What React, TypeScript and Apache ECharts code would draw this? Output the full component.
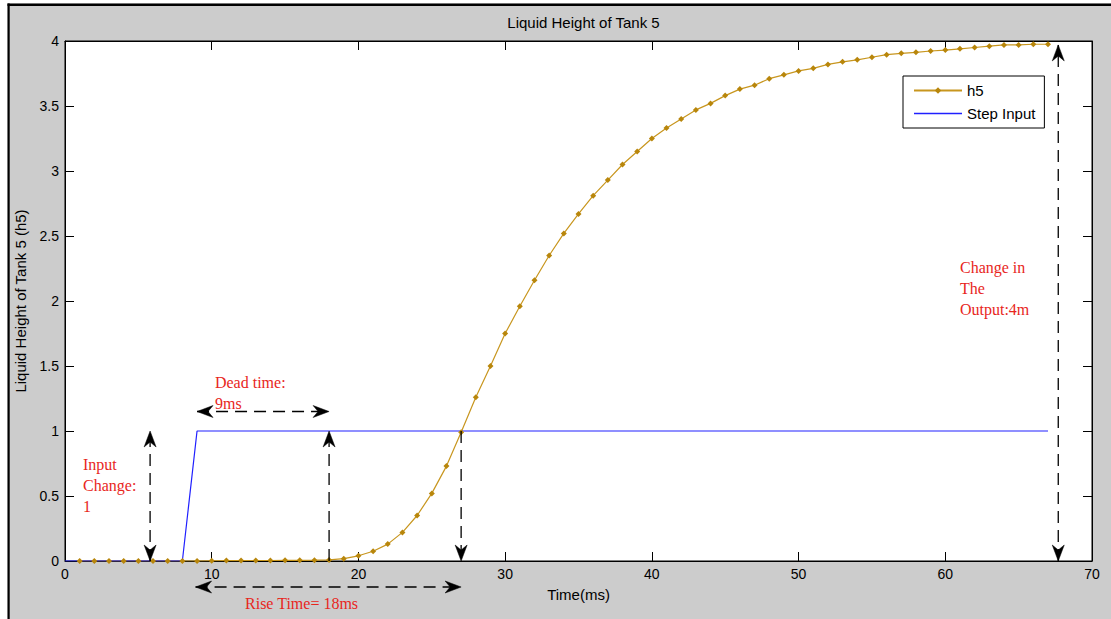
import React, { useEffect, useRef } from "react";
import * as echarts from "echarts";

const time = [
  1, 2, 3, 4, 5, 6, 7, 8, 9, 10, 11, 12, 13, 14, 15, 16, 17, 18, 19, 20,
  21, 22, 23, 24, 25, 26, 27, 28, 29, 30, 31, 32, 33, 34, 35, 36, 37, 38, 39, 40,
  41, 42, 43, 44, 45, 46, 47, 48, 49, 50, 51, 52, 53, 54, 55, 56, 57, 58, 59, 60,
  61, 62, 63, 64, 65, 66, 67,
];
const h5 = [
  0, 0, 0, 0, 0, 0, 0, 0, 0, 0.002, 0.003, 0.003, 0.004, 0.004, 0.005, 0.005, 0.006, 0.008, 0.018, 0.04,
  0.075, 0.13, 0.22, 0.35, 0.52, 0.73, 0.99, 1.26, 1.5, 1.75, 1.96, 2.16, 2.35, 2.52, 2.67, 2.81, 2.93, 3.05, 3.15, 3.25,
  3.33, 3.4, 3.47, 3.52, 3.58, 3.63, 3.66, 3.71, 3.74, 3.77, 3.79, 3.82, 3.84, 3.855, 3.875, 3.895, 3.905, 3.913, 3.923, 3.93,
  3.94, 3.95, 3.96, 3.97, 3.97, 3.975, 3.975,
];
const stepTime = [0, 8, 9, 67];
const stepValue = [0, 0, 1, 1];

const xTicks = [0, 10, 20, 30, 40, 50, 60, 70];
const yTicks = [0, 0.5, 1, 1.5, 2, 2.5, 3, 3.5, 4];

// annotation arrows: [x1, y1, x2, y2, headAtStart, headAtEnd]
const arrows: [number, number, number, number, boolean, boolean][] = [
  [5.8, 0, 5.8, 1, true, true],
  [9, 1.15, 18, 1.15, true, true],
  [18, 0, 18, 1, false, true],
  [27, 1, 27, 0, false, true],
  [8.9, -0.2, 27, -0.2, true, true],
  [67.7, 0, 67.7, 3.97, true, true],
];
// annotation texts: [x, y(top), text]
const notes: [number, number, string][] = [
  [1.23, 0.823, "Input\nChange:\n1"],
  [10.22, 1.454, "Dead time:\n9ms"],
  [12.27, -0.246, "Rise Time= 18ms"],
  [61.0, 2.338, "Change in\nThe\nOutput:4m"],
];

const SANS = "'Liberation Sans', Arial, sans-serif";
const SERIF = "'Liberation Serif', 'Times New Roman', serif";

export default function App() {
  const ref = useRef<HTMLDivElement>(null);
  useEffect(() => {
    if (!ref.current) return;
    const chart = echarts.init(ref.current, undefined, { renderer: "svg" });
    const tickStyle = { show: true, inside: true, length: 9, lineStyle: { color: "#000", width: 1 } };
    const axisLine = { show: true, onZero: false, lineStyle: { color: "#000", width: 1 } };
    chart.setOption({
      animation: false,
      backgroundColor: "#cccccc",
      title: {
        text: "Liquid Height of Tank 5",
        left: 578.5,
        textAlign: "center",
        top: 10,
        textStyle: { fontFamily: SANS, fontSize: 15, fontWeight: "normal", color: "#000" },
      },
      legend: {
        orient: "vertical",
        left: 903,
        top: 76,
        padding: [7, 9, 7, 10],
        itemGap: 8,
        itemWidth: 48,
        itemHeight: 8,
        backgroundColor: "#fff",
        borderColor: "#000",
        borderWidth: 1,
        borderRadius: 0,
        textStyle: { fontFamily: SANS, fontSize: 15, color: "#000" },
        data: [
          "h5",
          { name: "Step Input", icon: "path://M0,0 L48,0 L48,1.3 L0,1.3 Z" },
        ],
      },
      grid: {
        left: 65,
        top: 41,
        right: 19,
        bottom: 58,
        show: true,
        backgroundColor: "#fff",
        borderColor: "#000",
        borderWidth: 1,
      },
      xAxis: [
        {
          type: "value",
          min: 0,
          max: 70,
          interval: 10,
          name: "Time(ms)",
          nameLocation: "middle",
          nameGap: 26,
          nameTextStyle: { fontFamily: SANS, fontSize: 15, color: "#000" },
          axisLine,
          axisTick: tickStyle,
          splitLine: { show: false },
          axisLabel: {
            fontFamily: SANS,
            fontSize: 14,
            color: "#000",
            margin: 6,
            formatter: (v: number) => (xTicks.includes(v) ? String(v) : ""),
          },
        },
        {
          type: "value",
          position: "top",
          min: 0,
          max: 70,
          interval: 10,
          axisLine,
          axisTick: tickStyle,
          splitLine: { show: false },
          axisLabel: { show: false },
        },
      ],
      yAxis: [
        {
          type: "value",
          min: 0,
          max: 4,
          interval: 0.5,
          name: "Liquid Height of Tank 5 (h5)",
          nameLocation: "middle",
          nameGap: 37,
          nameTextStyle: { fontFamily: SANS, fontSize: 15, color: "#000" },
          axisLine,
          axisTick: tickStyle,
          splitLine: { show: false },
          axisLabel: {
            fontFamily: SANS,
            fontSize: 14,
            color: "#000",
            margin: 6,
            formatter: (v: number) => (yTicks.includes(v) ? String(v) : ""),
          },
        },
        {
          type: "value",
          position: "right",
          min: 0,
          max: 4,
          interval: 0.5,
          axisLine,
          axisTick: tickStyle,
          splitLine: { show: false },
          axisLabel: { show: false },
        },
      ],
      series: [
        {
          name: "h5",
          type: "line",
          xAxisIndex: 0,
          yAxisIndex: 0,
          data: time.map((t, i) => [t, h5[i]]),
          symbol: "diamond",
          symbolSize: 6,
          showSymbol: true,
          itemStyle: { color: "#b8860b" },
          lineStyle: { color: "#c8961e", width: 1.2 },
        },
        {
          name: "Step Input",
          type: "line",
          xAxisIndex: 0,
          yAxisIndex: 0,
          data: stepTime.map((t, i) => [t, stepValue[i]]),
          showSymbol: false,
          itemStyle: { color: "#2020ff" },
          lineStyle: { color: "#2020ff", width: 1.2 },
        },
      ],
    });

    const px = (x: number, y: number) =>
      chart.convertToPixel({ xAxisIndex: 0, yAxisIndex: 0 }, [x, y]) as number[];

    const graphics: any[] = [
      { type: "rect", shape: { x: 0, y: 0, width: 1111, height: 3.5 }, style: { fill: "#fff" }, z: 100 },
      { type: "rect", shape: { x: 0, y: 0, width: 7.5, height: 619 }, style: { fill: "#fff" }, z: 100 },
      { type: "rect", shape: { x: 7.5, y: 3.5, width: 1104, height: 2.5 }, style: { fill: "#000" }, z: 100 },
      { type: "rect", shape: { x: 7.5, y: 3.5, width: 2.2, height: 616 }, style: { fill: "#000" }, z: 100 },
    ];

    const head = (tip: number[], from: number[]) => {
      const dx = from[0] - tip[0];
      const dy = from[1] - tip[1];
      const len = Math.hypot(dx, dy) || 1;
      const ux = dx / len;
      const uy = dy / len;
      const nx = -uy;
      const ny = ux;
      const L = 16;
      const W = 6;
      const N = 11;
      return {
        type: "polygon",
        z: 50,
        shape: {
          points: [
            [tip[0], tip[1]],
            [tip[0] + ux * L + nx * W, tip[1] + uy * L + ny * W],
            [tip[0] + ux * N, tip[1] + uy * N],
            [tip[0] + ux * L - nx * W, tip[1] + uy * L - ny * W],
          ],
        },
        style: { fill: "#000", stroke: "#000", lineWidth: 0.5 },
      };
    };

    arrows.forEach(([x1, y1, x2, y2, hs, he]) => {
      const a = px(x1, y1);
      const b = px(x2, y2);
      graphics.push({
        type: "line",
        z: 50,
        shape: { x1: a[0], y1: a[1], x2: b[0], y2: b[1] },
        style: { stroke: "#000", lineWidth: 1.3, lineDash: [12, 7] },
      });
      if (hs) graphics.push(head(a, b));
      if (he) graphics.push(head(b, a));
    });

    notes.forEach(([x, y, text]) => {
      const p = px(x, y);
      graphics.push({
        type: "text",
        z: 60,
        x: p[0],
        y: p[1],
        style: {
          text,
          fill: "#e8261c",
          font: `16px ${SERIF}`,
          lineHeight: 21,
          textAlign: "left",
          textVerticalAlign: "top",
        },
      });
    });

    chart.setOption({ graphic: graphics });

    return () => chart.dispose();
  }, []);

  return (
    <div
      ref={ref}
      style={{ position: "fixed", left: 0, top: 0, width: 1111, height: 619 }}
    />
  );
}
